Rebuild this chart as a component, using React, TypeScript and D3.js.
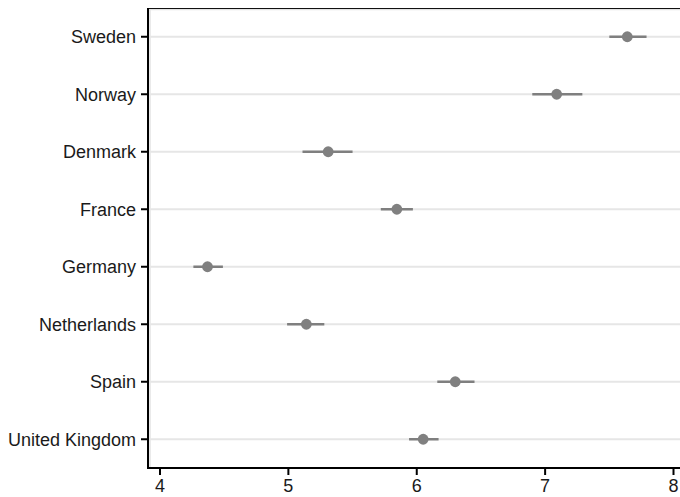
import React, { useEffect, useRef } from 'react';
import * as d3 from 'd3';

const countries = ['Sweden', 'Norway', 'Denmark', 'France', 'Germany', 'Netherlands', 'Spain', 'United Kingdom'];
const estimates = [7.64, 7.09, 5.31, 5.845, 4.37, 5.14, 6.30, 6.05];
const lowerCI = [7.50, 6.90, 5.11, 5.72, 4.26, 4.99, 6.16, 5.94];
const upperCI = [7.79, 7.29, 5.50, 5.97, 4.49, 5.28, 6.45, 6.17];
const xTicks = [4, 5, 6, 7, 8];

const width = 680;
const height = 497;

export default function App() {
  const ref = useRef<SVGSVGElement>(null);

  useEffect(() => {
    const el = ref.current;
    if (!el) return;
    const svg = d3.select(el);
    svg.selectAll('*').remove();

    const left = 148, top = 8, bottom = 468;
    const font = '"Liberation Sans", Arial, sans-serif';

    const x = d3.scaleLinear().domain([4, 8]).range([160, 673.5]);
    const y = d3.scalePoint<string>().domain(countries).range([top, bottom]).padding(0.5);

    // inner light frame
    svg.append('line')
      .attr('x1', left).attr('x2', width)
      .attr('y1', top + 1.5).attr('y2', top + 1.5)
      .attr('stroke', '#e3e3e3').attr('stroke-width', 1.5);
    svg.append('line')
      .attr('x1', left + 2).attr('x2', left + 2)
      .attr('y1', top).attr('y2', bottom)
      .attr('stroke', '#e3e3e3').attr('stroke-width', 1.5);

    // gridlines
    svg.append('g').selectAll('line')
      .data(countries)
      .join('line')
      .attr('x1', left).attr('x2', width)
      .attr('y1', d => y(d)!).attr('y2', d => y(d)!)
      .attr('stroke', '#e6e6e6').attr('stroke-width', 2);

    // confidence intervals
    const marks = svg.append('g');
    marks.selectAll('line')
      .data(countries)
      .join('line')
      .attr('x1', (d, i) => x(lowerCI[i]))
      .attr('x2', (d, i) => x(upperCI[i]))
      .attr('y1', d => y(d)!).attr('y2', d => y(d)!)
      .attr('stroke', '#7f7f7f').attr('stroke-width', 2.5);

    marks.selectAll('circle')
      .data(countries)
      .join('circle')
      .attr('cx', (d, i) => x(estimates[i]))
      .attr('cy', d => y(d)!)
      .attr('r', 5.4)
      .attr('fill', '#808080');

    // top border
    svg.append('line')
      .attr('x1', left).attr('x2', width)
      .attr('y1', top + 0.5).attr('y2', top + 0.5)
      .attr('stroke', '#111').attr('stroke-width', 1);

    // y axis
    const yAxis = svg.append('g');
    yAxis.append('line')
      .attr('x1', left).attr('x2', left)
      .attr('y1', top).attr('y2', bottom + 1)
      .attr('stroke', '#000').attr('stroke-width', 2);
    yAxis.selectAll('line.tick')
      .data(countries)
      .join('line')
      .attr('class', 'tick')
      .attr('x1', left - 7).attr('x2', left)
      .attr('y1', d => y(d)!).attr('y2', d => y(d)!)
      .attr('stroke', '#000').attr('stroke-width', 2);
    yAxis.selectAll('text')
      .data(countries)
      .join('text')
      .attr('x', left - 12)
      .attr('y', d => y(d)!)
      .attr('dy', '0.35em')
      .attr('text-anchor', 'end')
      .attr('font-family', font)
      .attr('font-size', 18)
      .attr('fill', '#1a1a1a')
      .text(d => d);

    // x axis
    const xAxis = svg.append('g');
    xAxis.append('line')
      .attr('x1', left - 1).attr('x2', width)
      .attr('y1', bottom).attr('y2', bottom)
      .attr('stroke', '#000').attr('stroke-width', 2);
    xAxis.selectAll('line.tick')
      .data(xTicks)
      .join('line')
      .attr('class', 'tick')
      .attr('x1', d => x(d)).attr('x2', d => x(d))
      .attr('y1', bottom).attr('y2', bottom + 7)
      .attr('stroke', '#000').attr('stroke-width', 2);
    xAxis.selectAll('text')
      .data(xTicks)
      .join('text')
      .attr('x', d => x(d))
      .attr('y', bottom + 23.5)
      .attr('text-anchor', 'middle')
      .attr('font-family', font)
      .attr('font-size', 18)
      .attr('fill', '#1a1a1a')
      .text(d => d);
  }, []);

  return (
    <svg
      ref={ref}
      width={width}
      height={height}
      style={{ position: 'absolute', left: 0, top: 0, background: '#fff' }}
    />
  );
}
